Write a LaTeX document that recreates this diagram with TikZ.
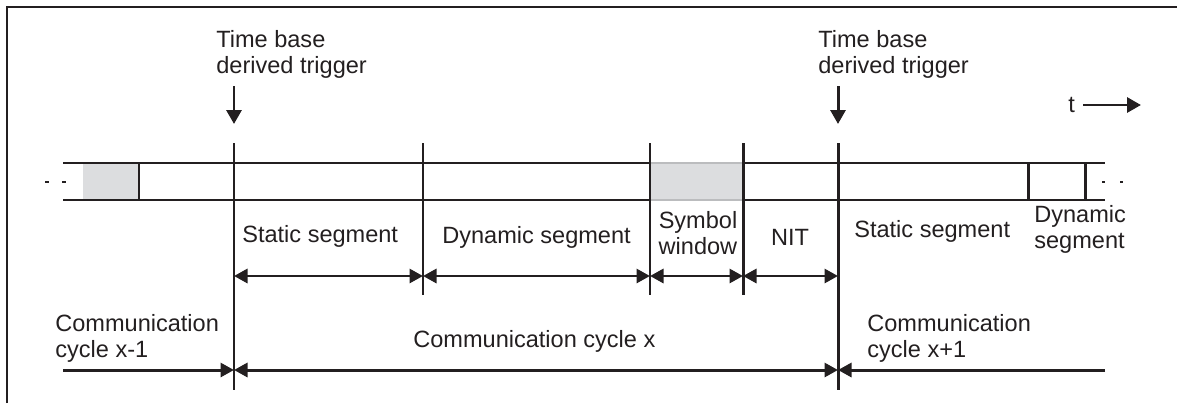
\documentclass[tikz,border=0pt]{standalone}
\usepackage{fontspec}
\setmainfont{Liberation Sans}
\usetikzlibrary{arrows.meta}
\definecolor{slotgrey}{HTML}{DCDDDF}
\definecolor{slotedge}{HTML}{BBBCBE}
\definecolor{inkblack}{HTML}{231F20}
\tikzset{
  tframe/.style={line width=1.7pt, draw=inkblack},
  tline/.style={line width=1.7pt, draw=inkblack},
  tslot/.style={line width=1.7pt, draw=slotedge, fill=slotgrey},
  ttrig/.style={line width=1.7pt, draw=inkblack, -{Triangle[length=0.28cm, width=0.3cm]}},
  tspan/.style={line width=1.7pt, draw=inkblack,
                {Triangle[length=0.27cm, width=0.28cm]}-{Triangle[length=0.27cm, width=0.28cm]}},
  tend/.style={line width=1.7pt, draw=inkblack, -{Triangle[length=0.27cm, width=0.28cm]}},
  tlabel/.style={inner sep=0pt, text=inkblack, font=\fontsize{13.4}{14.5}\selectfont}
}
\begin{document}
\begin{tikzpicture}[x=0.02cm, y=-0.02cm]
  \useasboundingbox (0,0) rectangle (1177,403);
  % frame
  \coordinate (FL) at (7,403); \coordinate (FC) at (7,7); \coordinate (FR) at (1177,7);
  \draw[tframe] (FL) -- (FC) -- (FR);
  % time band
  \coordinate (BTL) at (63,163); \coordinate (BTR) at (1105,163);
  \coordinate (BBL) at (63,200); \coordinate (BBR) at (1105,200);
  \fill[slotgrey] (83,163) rectangle (139,200);
  \draw[tline] (BTL) -- (BTR); \draw[tline] (BBL) -- (BBR);
  \draw[tslot] (650,163) rectangle (743,200);
  \draw[tline] (45,182) -- (49,182); \draw[tline] (62,182) -- (66,182);
  \draw[tline] (1102,182) -- (1104.5,182); \draw[tline] (1120,182) -- (1122.5,182);
  % boundaries
  \coordinate (K0t) at (139,163);  \coordinate (K0b) at (139,200);
  \coordinate (K1t) at (234,143);  \coordinate (K1b) at (234,390);
  \coordinate (K2t) at (423,143);  \coordinate (K2b) at (423,295);
  \coordinate (K3t) at (650,143);  \coordinate (K3b) at (650,295);
  \coordinate (K4t) at (743,143);  \coordinate (K4b) at (743,295);
  \coordinate (K5t) at (838,143);  \coordinate (K5b) at (838,390);
  \coordinate (K6t) at (1028,163); \coordinate (K6b) at (1028,200);
  \coordinate (K7t) at (1085,163); \coordinate (K7b) at (1085,200);
  \draw[tline] (K0t) -- (K0b); \draw[tline] (K1t) -- (K1b);
  \draw[tline] (K2t) -- (K2b); \draw[tline] (K3t) -- (K3b);
  \draw[tline] (K4t) -- (K4b); \draw[tline] (K5t) -- (K5b);
  \draw[tline] (K6t) -- (K6b); \draw[tline] (K7t) -- (K7b);
  % triggers
  \node[tlabel, anchor=base west, align=left] (trigA) at (216,73) {Time base\\derived trigger};
  \node[tlabel, anchor=base west, align=left] (trigB) at (818,73) {Time base\\derived trigger};
  \coordinate (TA1) at (234,86); \coordinate (TA2) at (234,124);
  \coordinate (TB1) at (838,86); \coordinate (TB2) at (838,124);
  \draw[ttrig] (TA1) -- (TA2); \draw[ttrig] (TB1) -- (TB2);
  % time axis
  \node[tlabel, anchor=base west] (tax) at (1068,112) {t};
  \coordinate (TX1) at (1083,105); \coordinate (TX2) at (1141,105);
  \draw[ttrig] (TX1) -- (TX2);
  % segments
  \node[tlabel, anchor=base west] (stat1) at (242,242) {Static segment};
  \node[tlabel, anchor=base west] (dyn1) at (442,243) {Dynamic segment};
  \node[tlabel, anchor=base, align=center] (sym) at (698,254) {Symbol\\window};
  \node[tlabel, anchor=base] (nit) at (790,245) {NIT};
  \node[tlabel, anchor=base west] (stat2) at (854,237) {Static segment};
  \node[tlabel, anchor=base west, align=left] (dyn2) at (1034,248) {Dynamic\\segment};
  \coordinate (S1) at (234,276); \coordinate (S2) at (423,276);
  \coordinate (S3) at (650,276); \coordinate (S4) at (743,276);
  \coordinate (S5) at (838,276);
  \draw[tspan] (S1) -- (S2); \draw[tspan] (S2) -- (S3);
  \draw[tspan] (S3) -- (S4); \draw[tspan] (S4) -- (S5);
  % cycles
  \node[tlabel, anchor=base west, align=left] (cyc0) at (55,357) {Communication\\cycle x-1};
  \node[tlabel, anchor=base west] (cyc1) at (413,347) {Communication cycle x};
  \node[tlabel, anchor=base west, align=left] (cyc2) at (867,357) {Communication\\cycle x+1};
  \coordinate (C0) at (63,370); \coordinate (C1) at (234,370);
  \coordinate (C2) at (838,370); \coordinate (C3) at (1105,370);
  \draw[tend] (C0) -- (C1); \draw[tspan] (C1) -- (C2); \draw[tend] (C3) -- (C2);
\end{tikzpicture}
\end{document}
